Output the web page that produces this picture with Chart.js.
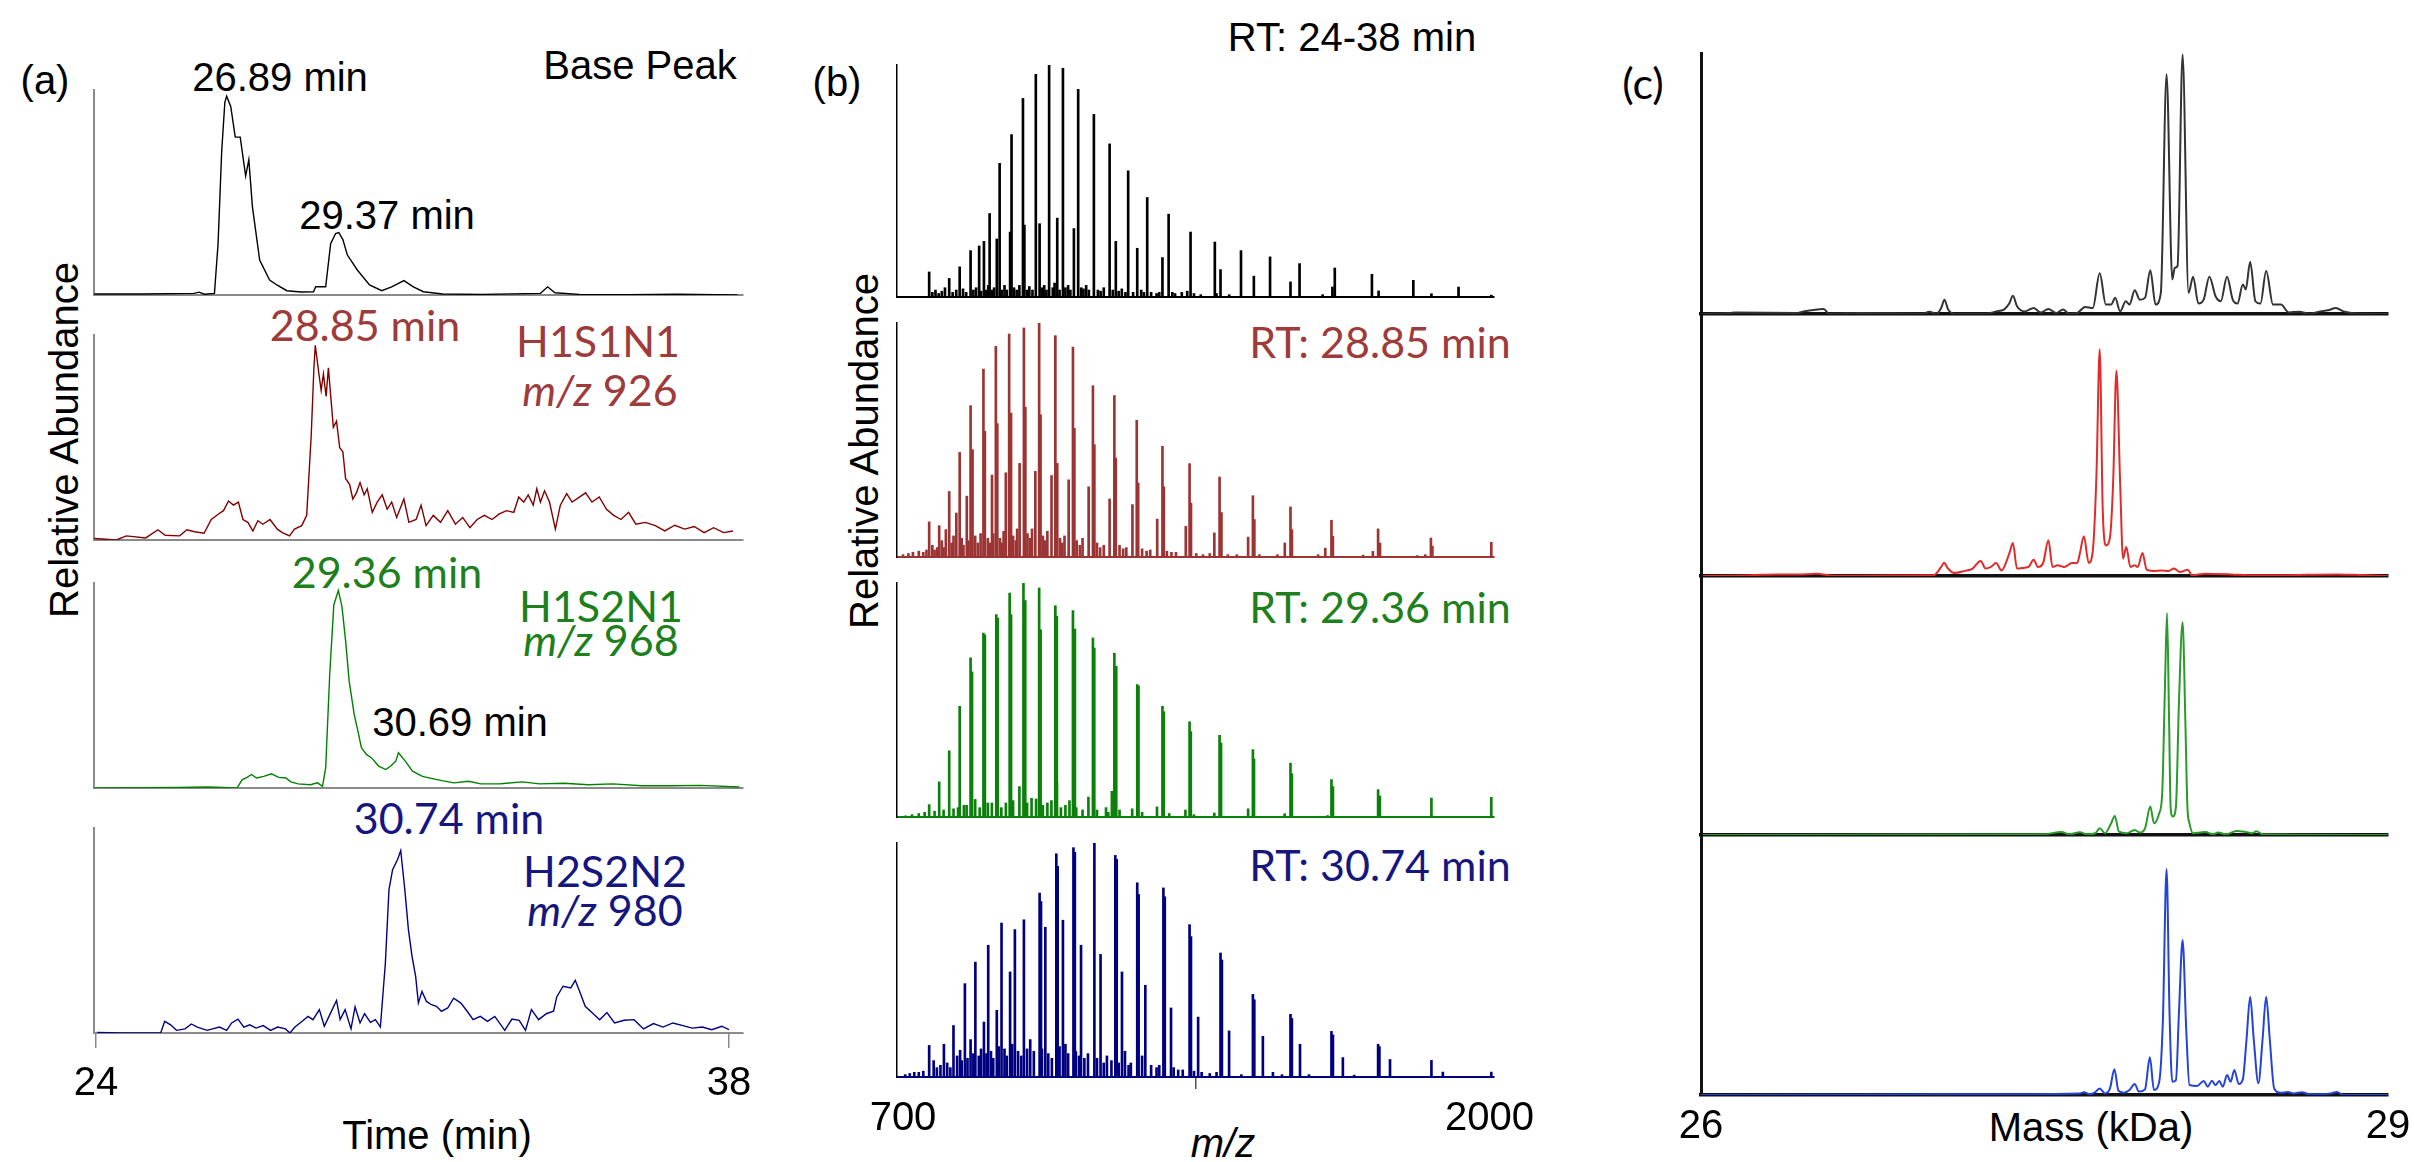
<!DOCTYPE html>
<html>
<head>
<meta charset="utf-8">
<script src="https://cdn.jsdelivr.net/npm/chart.js@4.4.1/dist/chart.umd.min.js"></script>
<style>
  body { margin: 0; background: #fff; }
  #fig { position: relative; width: 2414px; height: 1162px; overflow: hidden; background: #fff;
         font-family: 'Liberation Sans', Arial, sans-serif; }
  #fig canvas { position: absolute; }
  .lbl { position: absolute; white-space: nowrap; line-height: 1; transform: translate(-50%, -50%); font-size: 40px; color: #000; }
  .cal { font-family: Lato, 'Open Sans', sans-serif; font-size: 43px; }
  .vert { transform: translate(-50%, -50%) rotate(-90deg); }
  .red { color: #9e3b3b; }
  .grn { color: #1d801d; }
  .nav { color: #16167f; }
</style>
</head>
<body>
<div id="fig">
  <!-- (a) extracted ion chromatograms -->
  <div class="lbl" style="left:45px;top:80px">(a)</div>
  <div class="lbl" style="left:280px;top:77px">26.89 min</div>
  <div class="lbl" style="left:640px;top:65px">Base Peak</div>
  <div class="lbl" style="left:387px;top:215px">29.37 min</div>
  <div class="lbl cal red" style="left:365px;top:324px">28.85 min</div>
  <div class="lbl cal red" style="left:598px;top:340px">H1S1N1</div>
  <div class="lbl cal red" style="left:600px;top:389px"><i>m/z</i> 926</div>
  <div class="lbl cal grn" style="left:387px;top:571px">29.36 min</div>
  <div class="lbl cal grn" style="left:601px;top:605px">H1S2N1</div>
  <div class="lbl cal grn" style="left:601px;top:639px"><i>m/z</i> 968</div>
  <div class="lbl" style="left:460px;top:722px">30.69 min</div>
  <div class="lbl cal nav" style="left:449px;top:817px">30.74 min</div>
  <div class="lbl cal nav" style="left:605px;top:870px">H2S2N2</div>
  <div class="lbl cal nav" style="left:605px;top:909px"><i>m/z</i> 980</div>
  <div class="lbl" style="left:437px;top:1135px">Time (min)</div>
  <div class="lbl vert" style="left:64px;top:440px">Relative Abundance</div>

  <!-- (b) mass spectra -->
  <div class="lbl" style="left:837px;top:82px">(b)</div>
  <div class="lbl" style="left:1352px;top:37px">RT: 24-38 min</div>
  <div class="lbl cal red" style="left:1380px;top:341px">RT: 28.85 min</div>
  <div class="lbl cal grn" style="left:1380px;top:606px">RT: 29.36 min</div>
  <div class="lbl cal nav" style="left:1380px;top:864px">RT: 30.74 min</div>
  <div class="lbl vert" style="left:864px;top:451px">Relative Abundance</div>
  <div class="lbl" style="left:1223px;top:1143px"><i>m/z</i></div>

  <!-- (c) deconvoluted masses -->
  <div class="lbl cal" style="left:1643px;top:82px">(c)</div>
  <div class="lbl" style="left:2091px;top:1127px">Mass (kDa)</div>
</div>

<script>
// ---------- (a) chromatograms: [time (min), relative abundance] ----------
const basePeakTrace = [[23.96,0.5],[25.0,0.5],[26.17,0.8],[26.28,1.4],[26.40,0.4],[26.62,0.8],[26.70,25],[26.78,70],[26.85,94],[26.89,97],
  [26.98,92],[27.08,77],[27.19,77],[27.31,58],[27.38,66],[27.46,43],[27.62,17],[27.84,7.3],[28.00,4.9],[28.22,2.1],[28.54,1.5],
  [28.81,1.6],[28.86,4],[29.08,4],[29.19,25],[29.30,30],[29.37,30.5],[29.46,27],[29.56,19.5],[29.78,12.2],[30.05,4.9],[30.32,2.1],
  [30.54,4],[30.81,7],[31.02,4],[31.24,1.6],[31.67,0.5],[32.53,0.3],[33.83,0.8],[33.99,4],[34.15,1.1],[34.69,0.3],[35.77,0.2],
  [36.85,0.4],[38.19,0]];

const h1s1n1Trace = [[23.96,0.7],[24.45,0],[24.67,2],[25.10,1],[25.37,5],[25.53,2.3],[25.85,2],[26.01,5],[26.18,4],[26.39,3.3],
  [26.55,10],[26.71,12.7],[26.82,14.3],[26.93,19],[27.04,17],[27.15,18.5],[27.25,10],[27.36,8.6],[27.47,4.4],[27.58,9.4],[27.69,7.7],
  [27.85,10],[28.01,5.3],[28.12,3.6],[28.28,2],[28.39,5.3],[28.55,7],[28.66,12],[28.76,51],[28.82,84],[28.85,95],[28.93,81],[28.98,73],
  [29.03,81],[29.09,70],[29.14,84],[29.20,68],[29.25,55],[29.32,58],[29.39,45],[29.46,43],[29.52,30],[29.61,27],[29.68,20],[29.76,23],
  [29.84,28],[29.93,22],[30.00,25],[30.11,13.5],[30.22,18.5],[30.33,22],[30.44,15],[30.54,18.5],[30.65,11],[30.81,20],[30.92,8.6],
  [31.08,10],[31.19,17],[31.30,7],[31.46,12],[31.62,8.6],[31.78,14.3],[31.95,7.7],[32.11,11],[32.27,6],[32.43,10],[32.59,12],[32.76,10],
  [32.92,12.7],[33.08,14.3],[33.24,13.5],[33.35,21],[33.46,18.5],[33.56,22],[33.67,17],[33.75,25],[33.83,18.5],[33.92,24],[34.03,18.5],
  [34.16,5.3],[34.27,17],[34.41,22.6],[34.53,18.5],[34.70,21],[34.83,23],[34.97,18.5],[35.13,21],[35.29,15],[35.45,12],[35.61,10],
  [35.78,13.5],[35.94,7.7],[36.15,8.6],[36.37,7],[36.58,4.4],[36.80,7.2],[37.02,5.3],[37.23,6.6],[37.45,3.6],[37.66,6],[37.88,3.6],[38.09,4.4]];

const h1s2n1Trace = [[23.96,0],[25.83,0.3],[26.47,0.5],[27.12,0],[27.23,4],[27.34,5.2],[27.44,6.6],[27.55,4.9],[27.71,5.7],[27.88,6.9],
  [28.04,5.2],[28.20,4.9],[28.31,3],[28.47,2],[28.74,1.6],[28.90,2.5],[29.01,0.8],[29.08,9.8],[29.17,55.7],[29.26,89.3],[29.36,96.4],
  [29.44,88.5],[29.52,72],[29.60,52],[29.71,36],[29.80,27],[29.87,19.7],[29.98,16.4],[30.09,14.8],[30.25,10.7],[30.41,9],[30.52,10.7],
  [30.63,13.1],[30.69,17.2],[30.84,13.1],[31.00,8.2],[31.22,5.7],[31.44,4.6],[31.65,3.6],[31.92,2.5],[32.24,3.3],[32.51,2],[32.95,2.1],
  [33.43,3],[33.81,2],[34.35,2.3],[34.89,1.6],[35.43,2],[36.07,1.1],[36.72,1.1],[37.37,1.3],[38.23,0.5]];

const h2s2n2Trace = [[24.03,0.3],[24.57,0],[25.43,0],[25.52,5.7],[25.65,4],[25.78,1.3],[25.97,2],[26.11,4.4],[26.24,2.9],[26.46,1.3],
  [26.73,2.9],[26.89,1.3],[27.00,4.9],[27.14,6.8],[27.27,2.9],[27.40,4],[27.54,2.4],[27.70,3.6],[27.86,1.3],[28.02,2.9],[28.19,2],
  [28.29,0],[28.40,2.9],[28.56,5.7],[28.69,8.1],[28.80,6.5],[28.94,11.4],[29.05,3.3],[29.19,9.8],[29.32,15.9],[29.40,6.5],[29.51,11.4],
  [29.64,2],[29.73,12.7],[29.84,4.9],[29.94,9.4],[30.07,5.2],[30.18,6.5],[30.29,2.9],[30.40,34],[30.48,70],[30.56,79.7],[30.67,84.6],
  [30.74,89],[30.83,70],[30.91,50.4],[30.99,37.4],[31.07,27.6],[31.13,14.6],[31.21,20.3],[31.31,15.4],[31.42,13.8],[31.53,13],
  [31.64,10.6],[31.78,12.2],[31.91,17],[32.07,14.6],[32.21,10.6],[32.34,6.5],[32.50,8.1],[32.66,5.7],[32.82,8.1],[33.04,1.3],[33.20,6.8],
  [33.36,6.2],[33.50,1.3],[33.63,11.4],[33.79,6.5],[33.96,9.4],[34.12,10.6],[34.19,17.6],[34.33,22.8],[34.50,22],[34.60,25.7],
  [34.71,19.5],[34.82,13],[34.98,9.8],[35.14,6.5],[35.30,10],[35.47,4.9],[35.68,6.2],[35.90,6.5],[36.11,2],[36.33,4.6],[36.54,2.9],
  [36.76,4.9],[36.98,3.6],[37.19,2.4],[37.41,2.9],[37.62,1.6],[37.84,3.3],[38.00,1.6]];

const timeTicks = [24, 38];

// ---------- (b) spectra: [m/z, relative intensity] ----------
const rtAllPeaks = [[758.0,10.8],[802.4,8],[825.6,13],[849.8,20],[868.8,22],[879.4,24],[892.0,36],[907.9,25],[914.2,57.6],[937.4,28],
  [940.6,70],[965.9,85.6],[969.1,31],[994.4,96],[1002.8,31.6],[1023.9,100],[1041.9,34],[1054.5,98.6],[1078.8,29.5],[1088.3,89.5],
  [1123.1,78.7],[1158.0,66],[1171.7,24],[1199.1,54.4],[1219.2,21],[1241.3,42.9],[1275.1,17],[1288.8,35.7],[1337.4,28],[1391.2,23.7],
  [1403.8,11.8],[1449.2,20],[1477.7,9],[1513.6,17.3],[1558.9,6.5],[1579.0,14.4],[1651.8,4.3],[1657.1,12.5],[1739.4,9.8],[1754.2,2.6],
  [1831.2,7.2],[1871.3,1.4],[1931.4,4.3],[2004,0.8]];
const rtAllNoise = [[765,2],[772,3],[779,1.5],[786,2.5],[793,4],[810,2],[818,3],[833,3.5],[840,2],[856,3],[862,4],[873,2.5],[884,3],
  [889,5],[898,3],[902,4],[919,3],[925,5],[930,3],[946,4],[952,3],[958,5],[975,3],[980,4.5],[987,3],[1008,4],[1013,5],[1018,3],
  [1032,4],[1036,6],[1047,3],[1060,4],[1066,5],[1071,3],[1095,4],[1100,3.5],[1106,5],[1112,3],[1132,3],[1138,2.5],[1145,4],[1165,3],
  [1178,2.5],[1185,3.5],[1193,2],[1210,2],[1228,3],[1234,2],[1250,2],[1262,1.5],[1268,2],[1297,2],[1303,1.5],[1318,2],[1330,2.5],
  [1345,1.5],[1360,1],[1395,1.5],[1423,1],[1630,1]];

const rt2885Peaks = [[758.0,15],[780.2,13.4],[795.0,11.7],[802.4,28],[818.2,18.8],[825.6,44.7],[841.4,26],[849.8,64.7],[854.1,45.9],
  [878.3,80.3],[881.5,53.7],[897.3,35],[905.8,90],[909.0,57],[927.9,36],[935.3,95.3],[939.5,61.5],[958.5,40],[968.0,97.9],[971.2,64],
  [993.3,36.6],[1001.8,100],[1004.9,60.8],[1029.2,34.8],[1037.7,94.6],[1041.9,40],[1067.2,33],[1076.7,89.7],[1079.9,55],[1111.5,30],
  [1121.0,73.2],[1124.2,48],[1158.0,24.8],[1168.5,69],[1171.7,42.3],[1208.6,22.4],[1218.1,58.4],[1221.3,31.6],[1263.5,16.2],
  [1275.1,47.3],[1278.2,30],[1326.8,13.1],[1335.2,39.9],[1338.4,23],[1390.1,10.3],[1401.7,34.2],[1405.9,19],[1465.0,8.5],
  [1475.6,26.2],[1478.8,16],[1546.3,6],[1558.9,21.4],[1562.1,11.7],[1636.0,3.8],[1649.7,15.7],[1652.9,8.8],[1741.5,2.4],
  [1753.1,12],[1757.3,6],[1857.6,1],[1870.2,8.1],[1873.4,4.6],[2004,6.3]];
const rt2885Noise = [[700,1],[712,1.5],[722,2],[735,2.5],[745,2],[752,3],[765,5],[770,3],[776,4],[786,7],[790,4],[808,6],[812,9],
  [830,8],[834,5],[845,7],[860,9],[866,6],[872,10],[888,8],[893,6],[900,10],[915,8],[920,6],[923,11],[944,9],[950,7],[953,12],
  [976,10],[982,8],[986,12],[1010,9],[1015,7],[1020,11],[1048,8],[1053,6],[1058,9],[1085,7],[1092,5],[1098,8],[1130,6],[1137,4],
  [1145,5],[1180,5],[1188,3.5],[1195,4],[1230,3.5],[1240,2.5],[1248,3],[1285,2.5],[1295,2],[1305,2],[1350,1.5],[1365,1],[1380,1.5],
  [1420,1],[1440,1],[1490,1],[1530,1],[1620,1],[1720,0.8],[1840,0.6]];

const rt2936Peaks = [[758.0,5.3],[780.2,15],[802.4,28.3],[825.6,47.3],[849.8,68],[853.0,62],[878.3,78.6],[881.5,77.8],[906.8,86.5],
  [910.0,85],[936.4,95.7],[939.5,86.5],[967.0,100],[971.0,92.5],[1001.8,97.9],[1005.0,80],[1037.7,90.3],[1041.0,85.8],[1076.7,88.2],
  [1081.0,80.3],[1121.0,76.5],[1124.0,72.2],[1168.5,70],[1172.7,64.4],[1219.2,56.6],[1222.0,56],[1275.1,47.3],[1278.0,45],
  [1335.2,40.7],[1338.0,36.5],[1401.7,34.9],[1405.0,31.6],[1475.6,28.8],[1478.0,24.8],[1558.9,23],[1562.0,18.5],[1649.7,16],
  [1653.0,13],[1753.1,11.7],[1757.0,9],[1871.3,8.1],[2004,8.4]];
const rt2936Noise = [[706,0.5],[720,1],[735,1.5],[748,2],[770,2.5],[790,3],[812,3.5],[822,4],[835,5],[841,5],[860,7.5],[870,4],
  [888,6],[897,6],[918,4],[928,6],[944,7],[958,13],[975,6],[985,8],[995,7.7],[1010,5],[1020,6],[1029,7],[1041,15],[1050,4],[1060,5],
  [1069,7],[1084,4],[1098,3],[1111,8.5],[1130,3],[1150,4],[1155,2],[1163,11],[1180,3],[1208,3.5],[1230,2],[1263,4.3],[1290,1.5],
  [1326,3],[1345,1],[1390,1.7],[1465,3.5],[1546,1.4],[1641,0.6],[1755,1]];

const rt3074Peaks = [[758.0,13.5],[790.7,14],[811.9,22],[826.6,11.4],[837.2,39.9],[849.8,16],[860.4,49.1],[879.4,23.5],[888.9,56.3],
  [907.9,28.5],[918.4,65.8],[937.4,44.9],[948.0,63],[968.0,67.2],[1002.8,78.6],[1005.9,75],[1015.5,64],[1039.8,95.4],[1042.9,90],
  [1054.5,67],[1077.8,98],[1080.9,96],[1094.6,56.3],[1124.2,100],[1137.9,52.4],[1170.6,94.7],[1173.7,93],[1185.4,44.9],[1219.2,83],
  [1222.3,78],[1237.1,39.2],[1277.2,80.8],[1280.3,77],[1294.1,29.5],[1335.2,65.1],[1338.3,60],[1354.2,25.6],[1403.8,53],[1406.9,50],
  [1422.8,19.7],[1475.6,35.3],[1478.7,33],[1497.7,17.4],[1558.9,26.8],[1562.0,25],[1580.0,14],[1649.7,19.5],[1653.0,18],
  [1675.0,8.3],[1753.1,14],[1756.0,13],[1779.5,7.5],[1871.3,7.1],[1896.6,2.1],[2004,2.1]];
const rt3074Noise = [[705,1],[715,1.5],[725,2],[735,2],[745,2.5],[768,7],[775,4],[783,5],[798,6],[805,4],[820,9],[830,7],[843,8],
  [856,10],[868,9],[873,12],[885,10],[895,11],[900,8],[912,13],[925,12],[930,9],[942,14],[955,11],[962,9],[975,12],[982,16],[990,11],
  [1008,12],[1022,10],[1030,8],[1047,13],[1060,14],[1066,10],[1083,11],[1090,9],[1102,8],[1110,10],[1130,8],[1145,6],[1152,9],
  [1162,7],[1178,6],[1192,11],[1200,5],[1205,6],[1230,9],[1250,5],[1262,4],[1268,5],[1300,4],[1310,3],[1320,3],[1345,2.5],[1362,2],
  [1380,1.5],[1395,2],[1450,1],[1520,2],[1540,1],[1600,1],[1700,0.8]];

const mzTicks = [700, 2000];

// ---------- (c) deconvoluted spectra: [mass (kDa), intensity] ----------
const decoAll = [[26.0,0],[26.125,0.4],[26.148,0.6],[26.422,0.4],[26.445,0.9],[26.536,1.9],[26.559,0.1],[26.696,0.4],[26.970,0.1],
  [26.997,0.9],[27.027,0.1],[27.049,2.3],[27.063,5.5],[27.079,1.7],[27.106,0.1],[27.243,0.1],[27.289,1],[27.323,1.7],[27.346,4],
  [27.362,7],[27.380,3],[27.414,1],[27.453,2.3],[27.483,0.6],[27.517,1.9],[27.551,0.4],[27.581,1.7],[27.608,0.1],[27.643,0.4],
  [27.677,2.7],[27.711,2.3],[27.741,15.6],[27.768,3.6],[27.791,3.6],[27.809,6.2],[27.830,1],[27.855,4.9],[27.871,3.6],[27.894,9.1],
  [27.916,5.5],[27.939,6.2],[27.962,16.8],[27.985,3.6],[28.008,8.1],[28.033,91.9],[28.058,13.2],[28.069,17.7],[28.081,18.4],
  [28.103,99.4],[28.129,8.1],[28.149,14.3],[28.172,4],[28.195,5.5],[28.220,14.3],[28.247,6.8],[28.270,4.9],[28.297,14.3],[28.322,5.5],
  [28.343,4],[28.366,11.3],[28.379,9.4],[28.398,20],[28.421,4.9],[28.443,4],[28.468,16.5],[28.498,3.6],[28.532,3.6],[28.567,0.6],
  [28.612,0.9],[28.658,0.1],[28.703,1],[28.738,1.4],[28.772,2.3],[28.806,1],[28.840,0.4],[28.909,0.1],[29.0,0]];

const decoH1S1N1 = [[26.0,0],[26.217,0.3],[26.331,0.7],[26.422,0.6],[26.502,1],[26.582,0.1],[27.015,0.3],[27.049,3.9],[27.061,5.7],
  [27.079,3.2],[27.106,1.3],[27.152,2.2],[27.186,3.2],[27.221,6.5],[27.243,3.2],[27.266,3.9],[27.289,5.6],[27.312,2.4],[27.346,9.6],
  [27.362,14.2],[27.380,3.2],[27.414,3.6],[27.430,3.9],[27.453,7],[27.471,3.9],[27.494,5.6],[27.517,15.4],[27.535,3.9],[27.558,4.6],
  [27.586,3.9],[27.620,5.6],[27.643,5.6],[27.654,9.6],[27.672,17.1],[27.693,5.6],[27.711,11],[27.727,44],[27.741,97.8],[27.754,29.7],
  [27.768,13.2],[27.786,16.8],[27.800,41.2],[27.814,88.5],[27.830,41.2],[27.843,7.5],[27.857,12.5],[27.875,3.9],[27.894,4.6],
  [27.907,3.9],[27.928,9.9],[27.946,2.7],[27.973,2.2],[28.014,2.4],[28.042,2.2],[28.065,3.2],[28.092,1.7],[28.126,2.7],[28.144,0.3],
  [28.202,1],[28.316,0.7],[28.407,0.3],[28.521,0.3],[28.772,0.7],[28.886,0.4],[29.0,0]];

const decoH1S2N1 = [[26.0,0],[27.494,0.3],[27.574,1.4],[27.608,0.3],[27.654,1.2],[27.688,0.3],[27.722,0.8],[27.741,3],[27.764,0.8],
  [27.791,5.3],[27.807,8.6],[27.825,1.5],[27.859,0.8],[27.894,2.3],[27.916,1.1],[27.939,3],[27.962,12.8],[27.978,5.3],[28.001,9.8],
  [28.014,18.8],[28.026,66.8],[28.035,100],[28.044,51.8],[28.051,12],[28.060,8.3],[28.074,12.8],[28.087,59.3],[28.103,95.9],
  [28.115,51.8],[28.124,12.8],[28.133,5.3],[28.149,0.8],[28.179,1.1],[28.202,1.4],[28.236,0.3],[28.259,1.1],[28.293,0.3],[28.338,1.8],
  [28.373,1.5],[28.407,0.8],[28.425,1.7],[28.453,0.3],[29.0,0]];

const decoH2S2N2 = [[26.0,0],[27.061,0.3],[27.654,0.7],[27.672,1.2],[27.700,0.3],[27.722,1.3],[27.741,2.9],[27.764,0.7],[27.786,2.9],
  [27.805,11.4],[27.823,1.9],[27.848,1],[27.871,2.2],[27.894,4.9],[27.912,1.5],[27.939,2.5],[27.960,16.7],[27.978,2.2],[28.001,5.9],
  [28.017,33.2],[28.033,100],[28.046,36.1],[28.058,5.9],[28.074,6.6],[28.087,36.1],[28.103,68.6],[28.119,28.8],[28.133,4.4],
  [28.167,4],[28.195,6.2],[28.213,3.7],[28.231,6.3],[28.247,4.4],[28.263,6.2],[28.279,3.7],[28.297,8.8],[28.313,5.9],[28.329,11.1],
  [28.348,4.9],[28.366,6.9],[28.382,24.3],[28.398,43.5],[28.414,24.3],[28.434,5.2],[28.452,24.3],[28.468,43.5],[28.484,24.3],
  [28.503,2.9],[28.532,1],[28.562,1.3],[28.589,0.7],[28.624,1.2],[28.658,0.3],[28.749,0.7],[28.777,1.3],[28.806,0],[29.0,0]];

const massTicks = [26, 29];

// ---------- layout helpers ----------
const fig = document.getElementById('fig');
Chart.defaults.font.family = "'Liberation Sans', Arial, sans-serif";
Chart.defaults.color = '#000';

const PAD = 50, ROOM = 120;

// put a chart on the page so that its plot area covers rect {l, r, t, b}
function place(rect, config) {
  const w = rect.r - rect.l + 2 * PAD;
  const h = rect.b - rect.t + PAD + ROOM;
  const cv = document.createElement('canvas');
  cv.width = w; cv.height = h;
  cv.style.width = w + 'px'; cv.style.height = h + 'px';
  fig.appendChild(cv);
  config.options.layout = { padding: { left: PAD, right: PAD, top: PAD, bottom: 0 } };
  const chart = new Chart(cv, config);
  const a = chart.chartArea;
  chart.options.layout.padding = {
    left: PAD, top: PAD,
    right: PAD + Math.max(0, (a.right - a.left) - (rect.r - rect.l)),
    bottom: Math.max(0, (a.bottom - a.top) - (rect.b - rect.t)),
  };
  chart.update();
  const b = chart.chartArea;
  cv.style.left = (rect.l - b.left) + 'px';
  cv.style.top = (rect.t - b.top) + 'px';
  return chart;
}

function axisOptions(o) {
  const labels = !!o.ticks;
  const marks = labels && o.tickLen > 0;
  return {
    responsive: false, maintainAspectRatio: false, animation: false, events: [],
    plugins: { legend: { display: false }, tooltip: { enabled: false } },
    scales: {
      x: {
        type: 'linear', min: o.xmin, max: o.xmax, offset: false,
        border: { display: true, color: o.baseColor, width: o.baseWidth },
        grid: { display: marks, drawOnChartArea: false, drawTicks: marks, tickLength: o.tickLen || 0,
                color: o.tickColor || '#888', lineWidth: 1.5 },
        ticks: { display: labels, autoSkip: false, maxRotation: 0, padding: o.tickPad || 0,
                 font: { size: 40 }, color: '#000', callback: (v) => String(v) },
        afterBuildTicks: (ax) => { ax.ticks = (o.ticks || []).map((v) => ({ value: v })); },
      },
      y: {
        type: 'linear', min: 0, max: o.ymax || 100,
        border: { display: true, color: o.axisColor, width: o.axisWidth },
        grid: { display: false, drawTicks: false },
        ticks: { display: false },
      },
    },
  };
}

const xy = (pts) => pts.map(([x, y]) => ({ x, y }));

// ---------- (a) ----------
const rectsA = [
  { l: 94, r: 743, t: 90, b: 295 },
  { l: 94, r: 743, t: 335, b: 540 },
  { l: 94, r: 743, t: 583, b: 788 },
  { l: 94, r: 743, t: 828, b: 1033 },
];
const tracesA = [basePeakTrace, h1s1n1Trace, h1s2n1Trace, h2s2n2Trace];
const coloursA = ['#000000', '#800000', '#008000', '#000080'];

tracesA.forEach((pts, i) => {
  const last = i === tracesA.length - 1;
  place(rectsA[i], {
    type: 'line',
    data: { datasets: [{ data: xy(pts), borderColor: coloursA[i], borderWidth: 1.4, pointRadius: 0, tension: 0, fill: false }] },
    options: axisOptions({
      xmin: 23.956, xmax: 38.31, axisColor: '#8a8a8a', axisWidth: 2, baseColor: '#8a8a8a', baseWidth: 2,
      ticks: last ? timeTicks : null, tickLen: 15, tickColor: '#8a8a8a', tickPad: 12,
    }),
  });
});

// ---------- (b) ----------
const rectsB = [
  { l: 897, r: 1494, t: 65, b: 297 },
  { l: 897, r: 1494, t: 323, b: 557 },
  { l: 897, r: 1494, t: 583, b: 817 },
  { l: 897, r: 1494, t: 843, b: 1077 },
];
const spectraB = [
  [rtAllPeaks, rtAllNoise],
  [rt2885Peaks, rt2885Noise],
  [rt2936Peaks, rt2936Noise],
  [rt3074Peaks, rt3074Noise],
];
const coloursB = ['#000000', '#9c3434', '#0b800b', '#00007f'];

spectraB.forEach(([peaks, noise], i) => {
  const last = i === spectraB.length - 1;
  const bar = (pts) => ({ data: xy(pts), backgroundColor: coloursB[i], borderWidth: 0, barThickness: 2, grouped: false });
  place(rectsB[i], {
    type: 'bar',
    data: { datasets: [bar(peaks), bar(noise)] },
    options: axisOptions({
      xmin: 686.7, xmax: 2010, axisColor: '#000', axisWidth: 1.5, baseColor: coloursB[i], baseWidth: 2,
      ticks: last ? mzTicks : null, tickLen: 12, tickColor: '#555', tickPad: 6,
    }),
  });
});

// ---------- (c) ----------
const rectsC = [
  { l: 1701, r: 2388, t: 53, b: 314 },
  { l: 1701, r: 2388, t: 314, b: 576 },
  { l: 1701, r: 2388, t: 576, b: 835 },
  { l: 1701, r: 2388, t: 835, b: 1095 },
];
const tracesC = [decoAll, decoH1S1N1, decoH1S2N1, decoH2S2N2];
const coloursC = ['#333333', '#e02c2c', '#2b9a2b', '#2443d8'];
const ymaxC = [100, 113, 116.7, 115];

tracesC.forEach((pts, i) => {
  const last = i === tracesC.length - 1;
  place(rectsC[i], {
    type: 'line',
    data: { datasets: [{ data: xy(pts), borderColor: coloursC[i], borderWidth: 2, pointRadius: 0,
                         cubicInterpolationMode: 'monotone', fill: false }] },
    options: axisOptions({
      xmin: 26, xmax: 29, ymax: ymaxC[i], axisColor: '#111', axisWidth: 3, baseColor: '#111', baseWidth: 3.5,
      ticks: last ? massTicks : null, tickLen: 0, tickPad: 8,
    }),
  });
});
</script>
</body>
</html>
